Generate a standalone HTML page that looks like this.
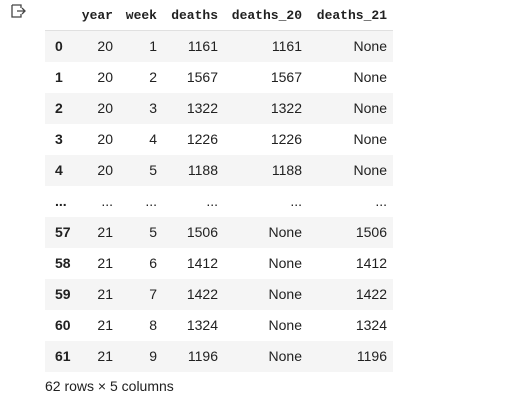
<!DOCTYPE html>
<html><head><meta charset="utf-8"><style>
body{margin:0;width:508px;height:419px;background:#fff;position:relative;font-family:"Liberation Sans",sans-serif;color:#212121;overflow:hidden}
.r{position:absolute;left:45px;width:348px;height:31px}
.g{background:#f5f5f5}
.c{position:absolute;top:0;line-height:31px;font-size:14px;text-align:right}
.h{font-family:"Liberation Mono",monospace;font-weight:bold;font-size:13px}
.i{font-weight:bold;text-align:left}
</style></head><body>
<svg style="position:absolute;left:11px;top:4px" width="16" height="14"><path d="M1 1h9v3M1 1v12h9v-3" stroke="#444" stroke-width="1.3" fill="none"/><path d="M6 7h8M11 4l3 3-3 3" stroke="#444" stroke-width="1.3" fill="none"/></svg>
<div id="t"></div>
<div style="position:absolute;left:45px;top:376px;font-size:14px;line-height:20px">62 rows × 5 columns</div>
<script>
const headers=["","year","week","deaths","deaths_20","deaths_21"];
const rows=[["0","20","1","1161","1161","None"],["1","20","2","1567","1567","None"],["2","20","3","1322","1322","None"],["3","20","4","1226","1226","None"],["4","20","5","1188","1188","None"],["...","...","...","...","...","..."],["57","21","5","1506","None","1506"],["58","21","6","1412","None","1412"],["59","21","7","1422","None","1422"],["60","21","8","1324","None","1324"],["61","21","9","1196","None","1196"]];
const rights=[0,68,112,173,257,342];
const t=document.getElementById('t');
function row(vals,top,cls,isH){
 const r=document.createElement('div');r.className='r '+cls;r.style.top=top+'px';
 
 
 if(isH){r.style.borderBottom='1px solid #e0e0e0';r.style.height='30px';}
 vals.forEach((v,j)=>{const c=document.createElement('div');
  c.className='c'+(isH?' h':'')+(j==0&&!isH?' i':'');
  if(j==0&&!isH){c.style.left='10px';}else{c.style.right=(348-rights[j])+'px';}
  c.textContent=v;
  
  
  r.appendChild(c);});
 t.appendChild(r);}
row(headers,0,'',true);
rows.forEach((v,i)=>row(v,31+31*i,i%2==0?'g':'',false));
</script>
</body></html>
